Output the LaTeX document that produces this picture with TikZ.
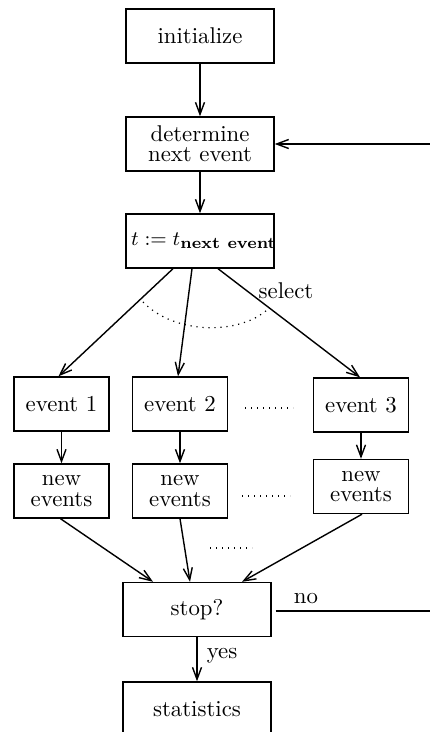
\documentclass[tikz,border=0pt]{standalone}
\usetikzlibrary{arrows.meta,calc}
% one drawing unit in points
\def\pxu{0.4386pt}
\begin{document}
\begin{tikzpicture}[x=\pxu,y=-\pxu,
  line width=1.4*\pxu,
  every node/.style={font=\fontsize{10}{8.8}\selectfont},
  box/.style={draw, minimum width=148*\pxu, minimum height=54*\pxu, inner sep=0pt, align=center},
  ebox/.style={box, minimum width=95*\pxu},
  flow/.style={-{Straight Barb[length=12*\pxu,width=9*\pxu]}},
  dots/.style={line width=1.2*\pxu, dash pattern=on 1.2*\pxu off 4.8*\pxu}]
\useasboundingbox (0,0) rectangle (430,732);
\clip (0,0) rectangle (430,732);

% main column
\node[box] (init) at (200,36) {initialize};
\node[box] (det)  at (200,144) {determine\\next event};
\node[box] (tset) at (200,241) {};
\node[font=\fontsize{9.4}{8.8}\selectfont] (tlbl) at (204,241) {$t:=t_{\mathbf{next\ event}}$};

% event handlers
\node[ebox] (ev1) at (61.5,404) {event 1};
\node[ebox] (ev2) at (180,404) {event 2};
\node[ebox] (ev3) at (361,405) {event 3};
\node[ebox] (ne1) at (61.5,491) {new\\events};
\node[ebox] (ne2) at (180,491) {new\\events};
\node[ebox] (ne3) at (361,486.5) {new\\events};

\node[box] (stop) at (197,609.5) {stop?};
\node[box] (stat) at (197,709) {statistics};

% labels
\node (sel) at (286,291) {select};
\node (no)  at (306,599) {no};
\node (yes) at (222,656) {yes};

% connectors
\draw[flow] (init) -- (det);
\draw[flow] (det) -- (tset);
\draw[flow] ($(tset.south)+(-27,0)$) -- ($(ev1.north)+(-3,0)$);
\draw[flow] ($(tset.south)+(-8,0)$)  -- ($(ev2.north)+(-2,0)$);
\draw[flow] ($(tset.south)+(18,0)$)  -- ($(ev3.north)+(-1,0)$);
\draw[flow] (ev1) -- (ne1);
\draw[flow] (ev2) -- (ne2);
\draw[flow] (ev3) -- (ne3);
\draw[flow] ($(ne1.south)+(-1,0)$) -- ($(stop.north)+(-44,0)$);
\draw[flow] (ne2.south) -- ($(stop.north)+(-7,0)$);
\draw[flow] ($(ne3.south)+(1,0)$) -- ($(stop.north)+(45,0)$);
\draw[flow] (stop) -- (stat);

% loop back to the event selection
\coordinate (turn) at (470,611);
\draw[flow] ($(stop.east)+(4,1.5)$) -- (turn) |- (det.east);

% selection arc and ellipses
\draw[dots] (143,302) .. controls (175,335) and (240,335) .. (268,309);
\draw[dots] (245,408) -- (293,408);
\draw[dots] (242,496) -- (290,496);
\draw[dots] (210,548) -- (252,548);
\end{tikzpicture}
\end{document}
